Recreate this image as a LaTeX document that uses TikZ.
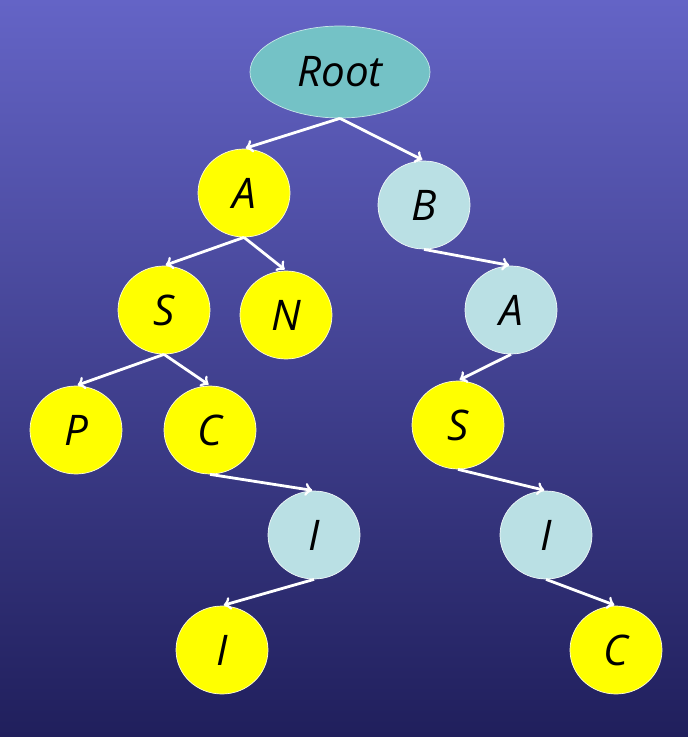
\documentclass[tikz,border=0pt]{standalone}
\usepackage{fontspec}
\setsansfont{Open Sans}
\usetikzlibrary{shapes.geometric}
\definecolor{bgtop}{RGB}{100,100,198}
\definecolor{bgmid}{RGB}{50,50,140}
\definecolor{bgbot}{RGB}{32,31,92}
\definecolor{rootfill}{RGB}{116,194,198}
\definecolor{pale}{RGB}{186,224,228}
\definecolor{hit}{RGB}{255,255,0}
\begin{document}
\begin{tikzpicture}[x=0.2mm,y=-0.2mm,
  every node/.style={font=\sffamily\itshape\fontsize{24}{28}\selectfont,text=black},
  keynode/.style={ellipse,fill=hit,draw=white!85!yellow,line width=0.4pt,minimum width=1.84cm,minimum height=1.76cm,inner sep=0pt},
  palenode/.style={keynode,fill=pale,draw=white!80!pale},
  link/.style={->,>=to,white,line width=1.6pt,shorten >=1pt}]
\shade[top color=bgtop,middle color=bgmid,bottom color=bgbot] (0,0) rectangle (688,737);
% root and the left word
\node[ellipse,fill=rootfill,draw=white!60!rootfill,minimum width=3.6cm,minimum height=1.84cm] (root) at (340,72) {Root};
\node[keynode] (a) at (244,193) {A};
\node[palenode] (b) at (424,205) {B};
\node[keynode] (s) at (164,310) {S};
\node[keynode] (n) at (286,315) {N};
\node[keynode] (p) at (76,430) {P};
\node[keynode] (c) at (210,430) {C};
\node[palenode] (ci) at (314,535) {I};
\node[keynode] (cii) at (222,650) {I};
% right branch
\node[palenode] (ba) at (511,310) {A};
\node[keynode] (bas) at (458,425) {S};
\node[palenode] (basi) at (546,535) {I};
\node[keynode] (basic) at (616,650) {C};
\foreach \u/\v in {root/a,root/b,a/s,a/n,s/p,s/c,c/ci,ci/cii,b/ba,ba/bas,bas/basi,basi/basic}
  \draw[link] (\u.south) -- (\v.north);
\end{tikzpicture}
\end{document}
